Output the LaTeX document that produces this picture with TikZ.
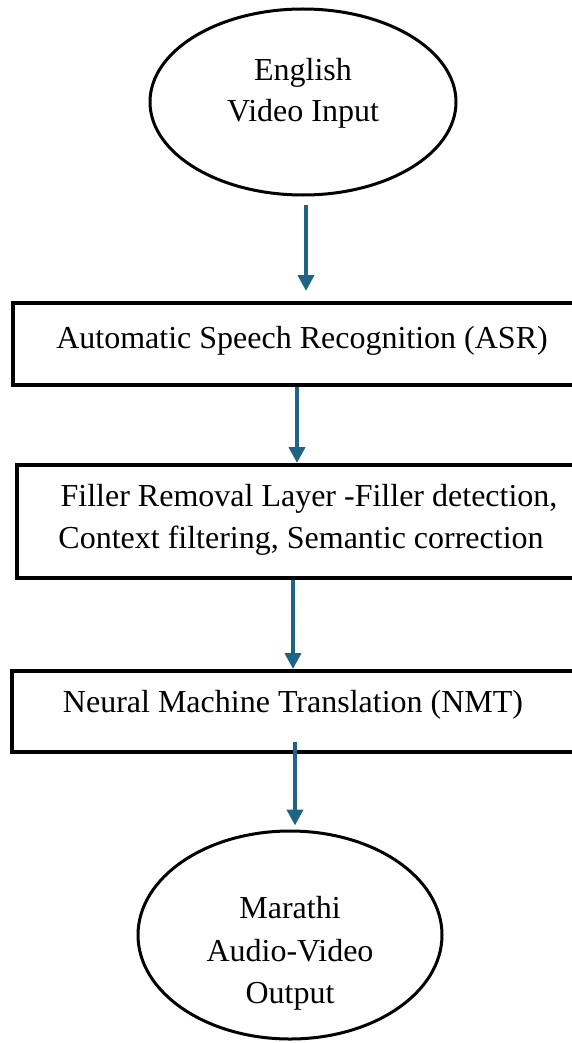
\documentclass[tikz,border=0pt]{standalone}
\usepackage{fontspec}
\setmainfont{Liberation Serif}
\usetikzlibrary{shapes.geometric,arrows.meta,calc}
\definecolor{arrblue}{RGB}{31,99,134}
\begin{document}
\begin{tikzpicture}[x=1pt,y=-1pt,
  oval/.style={draw,ellipse,line width=3pt,inner sep=0pt},
  stepbox/.style={draw,rectangle,line width=4pt,inner sep=0pt},
  lbl/.style={font=\fontsize{32}{42}\selectfont,align=center,inner sep=0pt,anchor=base},
  arr/.style={draw=arrblue,line width=4pt,-{Triangle[width=16pt,length=16pt]}}]
\useasboundingbox (0,0) rectangle (572,1043);
% shapes
\node[oval,minimum width=306pt,minimum height=186pt] (in) at (303,102) {};
\node[stepbox,minimum width=577pt,minimum height=82pt] (asr) at (301.5,344) {};
\node[stepbox,minimum width=573pt,minimum height=113pt] (frl) at (303.5,521.5) {};
\node[stepbox,minimum width=578pt,minimum height=81pt] (nmt) at (301,711.5) {};
\node[oval,minimum width=304pt,minimum height=208pt] (out) at (290,935) {};
% texts
\node[lbl] (t1) at (303,81) {English};
\node[lbl] (t2) at (303,122) {Video Input};
\node[lbl] (t3) at (302,348) {Automatic Speech Recognition (ASR)};
\node[lbl] (t4) at (309,506) {Filler Removal Layer -Filler detection,};
\node[lbl] (t5) at (301,548) {Context filtering, Semantic correction};
\node[lbl] (t6) at (293,712) {Neural Machine Translation (NMT)};
\node[lbl] (t7) at (290,918) {Marathi};
\node[lbl] (t8) at (290,961) {Audio-Video};
\node[lbl] (t9) at (290,1003) {Output};
% connectors
\coordinate (a1) at ($(in.south)+(3,8)$);
\draw[arr,shorten >=10pt] (a1) -- (a1 |- asr.north);
\coordinate (a2) at ($(asr.south)+(-4.5,0)$);
\draw[arr] (a2) -- (a2 |- frl.north);
\coordinate (a3) at ($(frl.south)+(-10.5,0)$);
\draw[arr] (a3) -- (a3 |- nmt.north);
\coordinate (a4) at ($(nmt.south)+(-6,-12)$);
\draw[arr,shorten >=4pt] (a4) -- (a4 |- out.north);
\end{tikzpicture}
\end{document}
